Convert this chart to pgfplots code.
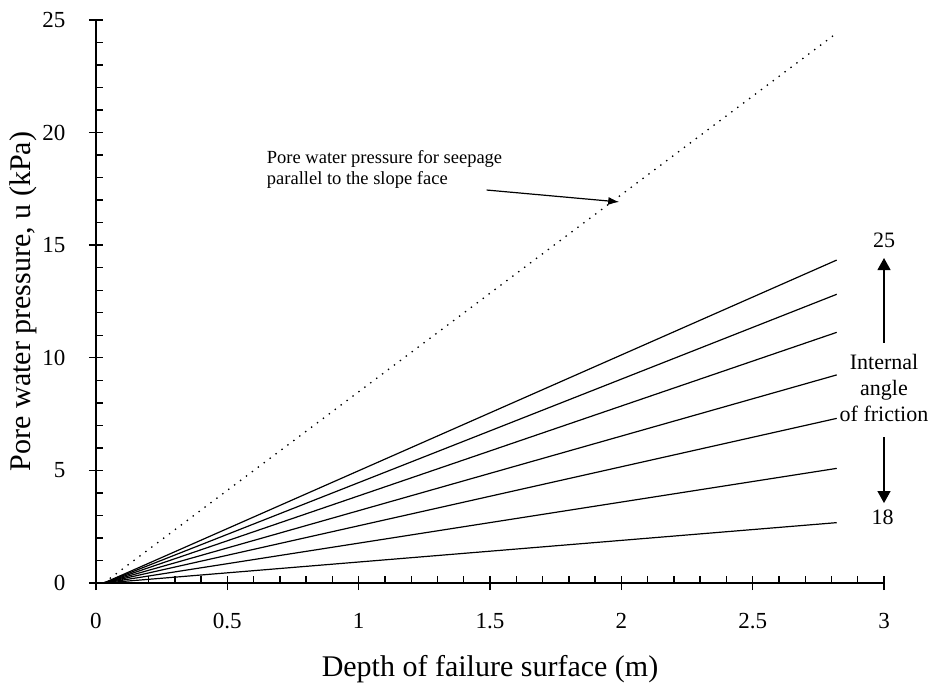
\documentclass[border=0pt]{standalone}
\usepackage{fontspec}
\setmainfont{Liberation Serif}
\usepackage{pgfplots}
\pgfplotsset{compat=1.18}
\usetikzlibrary{arrows.meta}
\begin{document}
\begin{tikzpicture}
\path[use as bounding box] (0,0) rectangle (933pt,685pt);
\begin{axis}[
  at={(96pt,102pt)}, anchor=south west,
  scale only axis, width=788pt, height=563pt,
  xmin=0, xmax=3, ymin=0, ymax=25,
  axis x line=bottom, axis y line=left,
  axis line style={-, line width=2.2pt},
  xtick={0,0.5,1,1.5,2,2.5,3}, ytick={0,5,10,15,20,25},
  xticklabels={0,0.5,1,1.5,2,2.5,3},
  minor x tick num=4, minor y tick num=4,
  tick align=center, major tick length=14pt, minor tick length=7pt,
  tick style={line width=1.4pt, black},
  minor x tick style={yshift=3.5pt},
  minor y tick style={xshift=3.5pt},
  /pgf/number format/assume math mode=true,
  tick label style={font=\fontsize{23}{23}\selectfont},
  xticklabel style={yshift=-20pt},
  yticklabel style={xshift=-20pt},
  xlabel={Depth of failure surface (m)},
  ylabel={Pore water pressure, u (kPa)},
  label style={font=\fontsize{30}{30}\selectfont},
  xlabel style={at={(axis description cs:0.5,-0.153)}, anchor=center},
  ylabel style={at={(axis description cs:-0.092,0.5)}, anchor=center},
  clip=false,
]
% seepage parallel to slope face
\addplot[black, line width=1.3pt, dash pattern=on 1.4pt off 6pt] coordinates {(0.03,0) (2.82,24.42)};
% internal angle of friction 25 ... 18
\addplot[black, line width=1.2pt] coordinates {(0.03,0) (2.82,14.34)};
\addplot[black, line width=1.2pt] coordinates {(0.03,0) (2.82,12.82)};
\addplot[black, line width=1.2pt] coordinates {(0.03,0) (2.82,11.13)};
\addplot[black, line width=1.2pt] coordinates {(0.03,0) (2.82,9.24)};
\addplot[black, line width=1.2pt] coordinates {(0.03,0) (2.82,7.31)};
\addplot[black, line width=1.2pt] coordinates {(0.03,0) (2.82,5.09)};
\addplot[black, line width=1.2pt] coordinates {(0.03,0) (2.82,2.68)};

\node[anchor=north west, align=left, font=\fontsize{18.5}{21}\selectfont, inner sep=0pt]
  at (axis cs:0.65,19.2) {Pore water pressure for seepage\\parallel to the slope face};
\draw[-{Latex[length=11pt,width=8pt]}, line width=1.2pt] (axis cs:1.487,17.45) -- (axis cs:1.992,16.92);

\node[font=\fontsize{22}{22}\selectfont] at (axis cs:3,15.2) {25};
\node[font=\fontsize{22}{22}\selectfont] at (axis cs:2.995,2.9) {18};
\node[align=center, font=\fontsize{22}{26}\selectfont] at (axis cs:3,8.65) {Internal\\angle\\of friction};
\draw[-{Triangle[length=12pt,width=13pt]}, line width=1.2pt] (axis cs:3,10.66) -- (axis cs:3,14.43);
\draw[-{Triangle[length=12pt,width=13pt]}, line width=1.2pt] (axis cs:3,6.48) -- (axis cs:3,3.55);
\end{axis}
\end{tikzpicture}
\end{document}
